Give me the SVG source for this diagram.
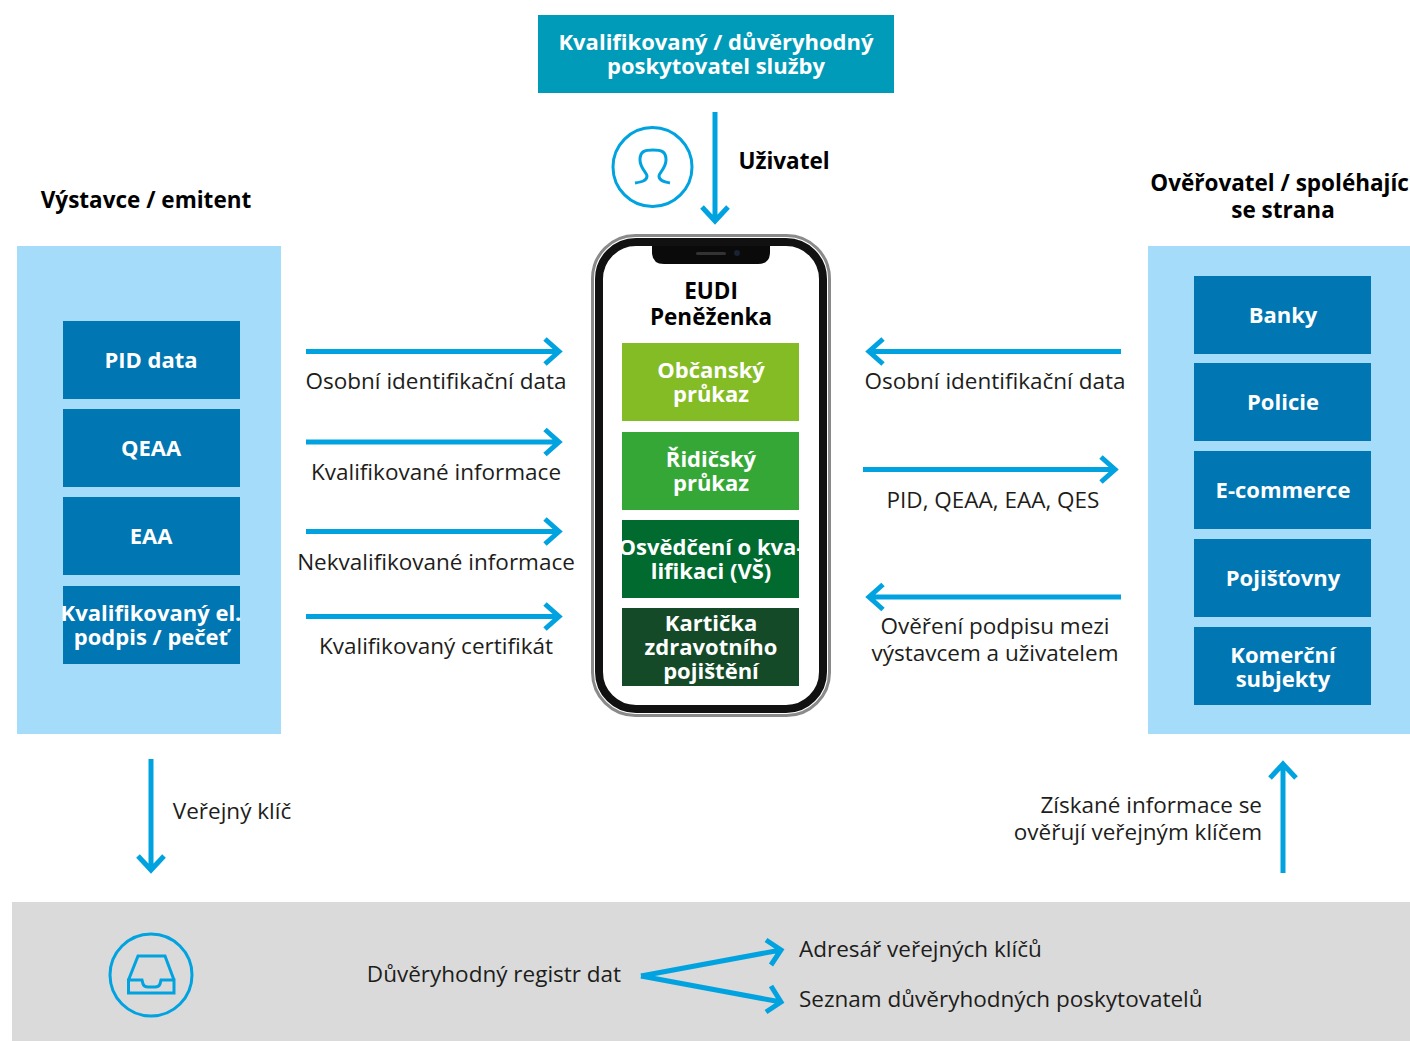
<svg xmlns="http://www.w3.org/2000/svg" width="1410" height="1041" viewBox="0 0 1410 1041">
<defs>
<style>
text{font-family:"Open Sans","Noto Sans","DejaVu Sans",sans-serif;text-anchor:middle}
.l{font-size:22.5px;fill:#1d1d1b}
.b{font-size:22.5px;font-weight:700;fill:#000}
.w{font-size:22px;font-weight:700;fill:#fff}
.s{stroke:#00a3e0;fill:none;stroke-width:5}
.i{stroke:#00a3e0;fill:none;stroke-width:3}
.blue{fill:#0076b3}
</style>
</defs>
<rect width="1410" height="1041" fill="#fff"/>
<rect x="17" y="246" width="264" height="488" fill="#a5dcf9"/>
<rect x="1148" y="246" width="262" height="488" fill="#a5dcf9"/>
<rect x="12" y="902" width="1398" height="139" fill="#dadada"/>

<g id="provider"><rect x="538" y="15" width="356" height="78" fill="#009bb8"/><text class="w" x="716" y="50">Kvalifikovaný / důvěryhodný</text><text class="w" x="716" y="74">poskytovatel služby</text></g>

<g id="phone">
<rect x="592.500" y="235.500" width="237" height="480" rx="43" fill="#fff" stroke="#8a8a8a" stroke-width="3"/>
<rect x="599" y="242" width="224" height="467" rx="37" fill="#fff" stroke="#111" stroke-width="8"/>
<path d="M652 246H770V252Q770 264 758 264H664Q652 264 652 252Z" fill="#0a0a0a"/>
<rect x="696" y="252" width="30" height="3" rx="1.500" fill="#333"/>
<circle cx="737" cy="253" r="3" fill="#1a2333"/>
<text class="b" x="711" y="299">EUDI</text><text class="b" x="711" y="325">Peněženka</text>
</g>

<g id="obcansky"><rect x="622" y="343" width="177" height="78" fill="#84bc26"/><text class="w" x="711" y="378">Občanský</text><text class="w" x="711" y="402">průkaz</text></g>
<g id="ridicsky"><rect x="622" y="432" width="177" height="78" fill="#35a737"/><text class="w" x="711" y="467">Řidičský</text><text class="w" x="711" y="491">průkaz</text></g>
<g id="osvedceni"><rect x="622" y="520" width="177" height="78" fill="#006a2f"/><text class="w" x="711" y="555">Osvědčení o kva-</text><text class="w" x="711" y="579">lifikaci (VŠ)</text></g>
<g id="karticka"><rect x="622" y="608" width="177" height="78" fill="#154a29"/><text class="w" x="711" y="631">Kartička</text><text class="w" x="711" y="655">zdravotního</text><text class="w" x="711" y="679">pojištění</text></g>

<g id="vystavce"><text class="b" x="146" y="208">Výstavce / emitent</text></g>
<g id="pid"><rect class="blue" x="63" y="321" width="177" height="78"/><text class="w" x="151" y="368">PID data</text></g>
<g id="qeaa"><rect class="blue" x="63" y="409" width="177" height="78"/><text class="w" x="151" y="456">QEAA</text></g>
<g id="eaa"><rect class="blue" x="63" y="497" width="177" height="78"/><text class="w" x="151" y="544">EAA</text></g>
<g id="kep"><rect class="blue" x="63" y="586" width="177" height="78"/><text class="w" x="151" y="621">Kvalifikovaný el.</text><text class="w" x="151" y="645">podpis / pečeť</text></g>

<g id="overovatel"><text class="b" x="1283" y="191">Ověřovatel / spoléhající</text><text class="b" x="1283" y="218">se strana</text></g>
<g id="banky"><rect class="blue" x="1194" y="276" width="177" height="78"/><text class="w" x="1283" y="323">Banky</text></g>
<g id="policie"><rect class="blue" x="1194" y="363" width="177" height="78"/><text class="w" x="1283" y="410">Policie</text></g>
<g id="ecommerce"><rect class="blue" x="1194" y="451" width="177" height="78"/><text class="w" x="1283" y="498">E-commerce</text></g>
<g id="pojistovny"><rect class="blue" x="1194" y="539" width="177" height="78"/><text class="w" x="1283" y="586">Pojišťovny</text></g>
<g id="komercni"><rect class="blue" x="1194" y="627" width="177" height="78"/><text class="w" x="1283" y="663">Komerční</text><text class="w" x="1283" y="687">subjekty</text></g>

<g id="user-icon"><circle class="i" cx="652.500" cy="167" r="39.500"/><path class="i" d="M635 183C641 182 647 181 647 176C647 173 640 168 640 160C640 151 645 150 653 150C661 150 666 151 666 160C666 168 659 173 659 176C659 181 665 182 670 183"/></g>
<g id="registry-icon"><circle class="i" cx="151" cy="975" r="41"/><path class="i" d="M128.500 993V980H142L143 984Q144 987 148 987H155Q159 987 160 984L161 980H174V993ZM128.500 980L138 956H165L174 980"/></g>

<g id="connectors">
<path class="s" d="M715 112V221M702 207L715 221L728 207"/>
<path class="s" d="M306 351.500H559M545 339L559 351.500L545 364"/>
<path class="s" d="M306 442H559M545 429.500L559 442L545 454.500"/>
<path class="s" d="M306 531.500H559M545 519L559 531.500L545 544"/>
<path class="s" d="M306 616.500H559M545 604L559 616.500L545 629"/>
<path class="s" d="M1121 351.500H869M883 339L869 351.500L883 364"/>
<path class="s" d="M863 469.500H1115M1101 457L1115 469.500L1101 482"/>
<path class="s" d="M1121 597H869M883 584.500L869 597L883 609.500"/>
<path class="s" d="M151 759V870M138 856L151 870L164 856"/>
<path class="s" d="M1283 873V764M1270 778L1283 764L1296 778"/>
<path class="s" d="M641 976L781 950M766 940L781 950L771 965"/>
<path class="s" d="M641 976L781 1002M771 986L781 1002L766 1012"/>
</g>

<g id="labels">
<text class="b" x="784" y="169">Uživatel</text>
<text class="l" x="436" y="389">Osobní identifikační data</text>
<text class="l" x="436" y="480">Kvalifikované informace</text>
<text class="l" x="436" y="570">Nekvalifikované informace</text>
<text class="l" x="436" y="654">Kvalifikovaný certifikát</text>
<text class="l" x="995" y="389">Osobní identifikační data</text>
<text class="l" x="993" y="508">PID, QEAA, EAA, QES</text>
<text class="l" x="995" y="634">Ověření podpisu mezi</text>
<text class="l" x="995" y="661">výstavcem a uživatelem</text>
<text class="l" x="232" y="819">Veřejný klíč</text>
<text class="l" x="1262" y="813" style="text-anchor:end">Získané informace se</text>
<text class="l" x="1262" y="840" style="text-anchor:end">ověřují veřejným klíčem</text>
<text class="l" x="494" y="982">Důvěryhodný registr dat</text>
<text class="l" x="799" y="957" style="text-anchor:start">Adresář veřejných klíčů</text>
<text class="l" x="799" y="1007" style="text-anchor:start">Seznam důvěryhodných poskytovatelů</text>
</g>
</svg>
